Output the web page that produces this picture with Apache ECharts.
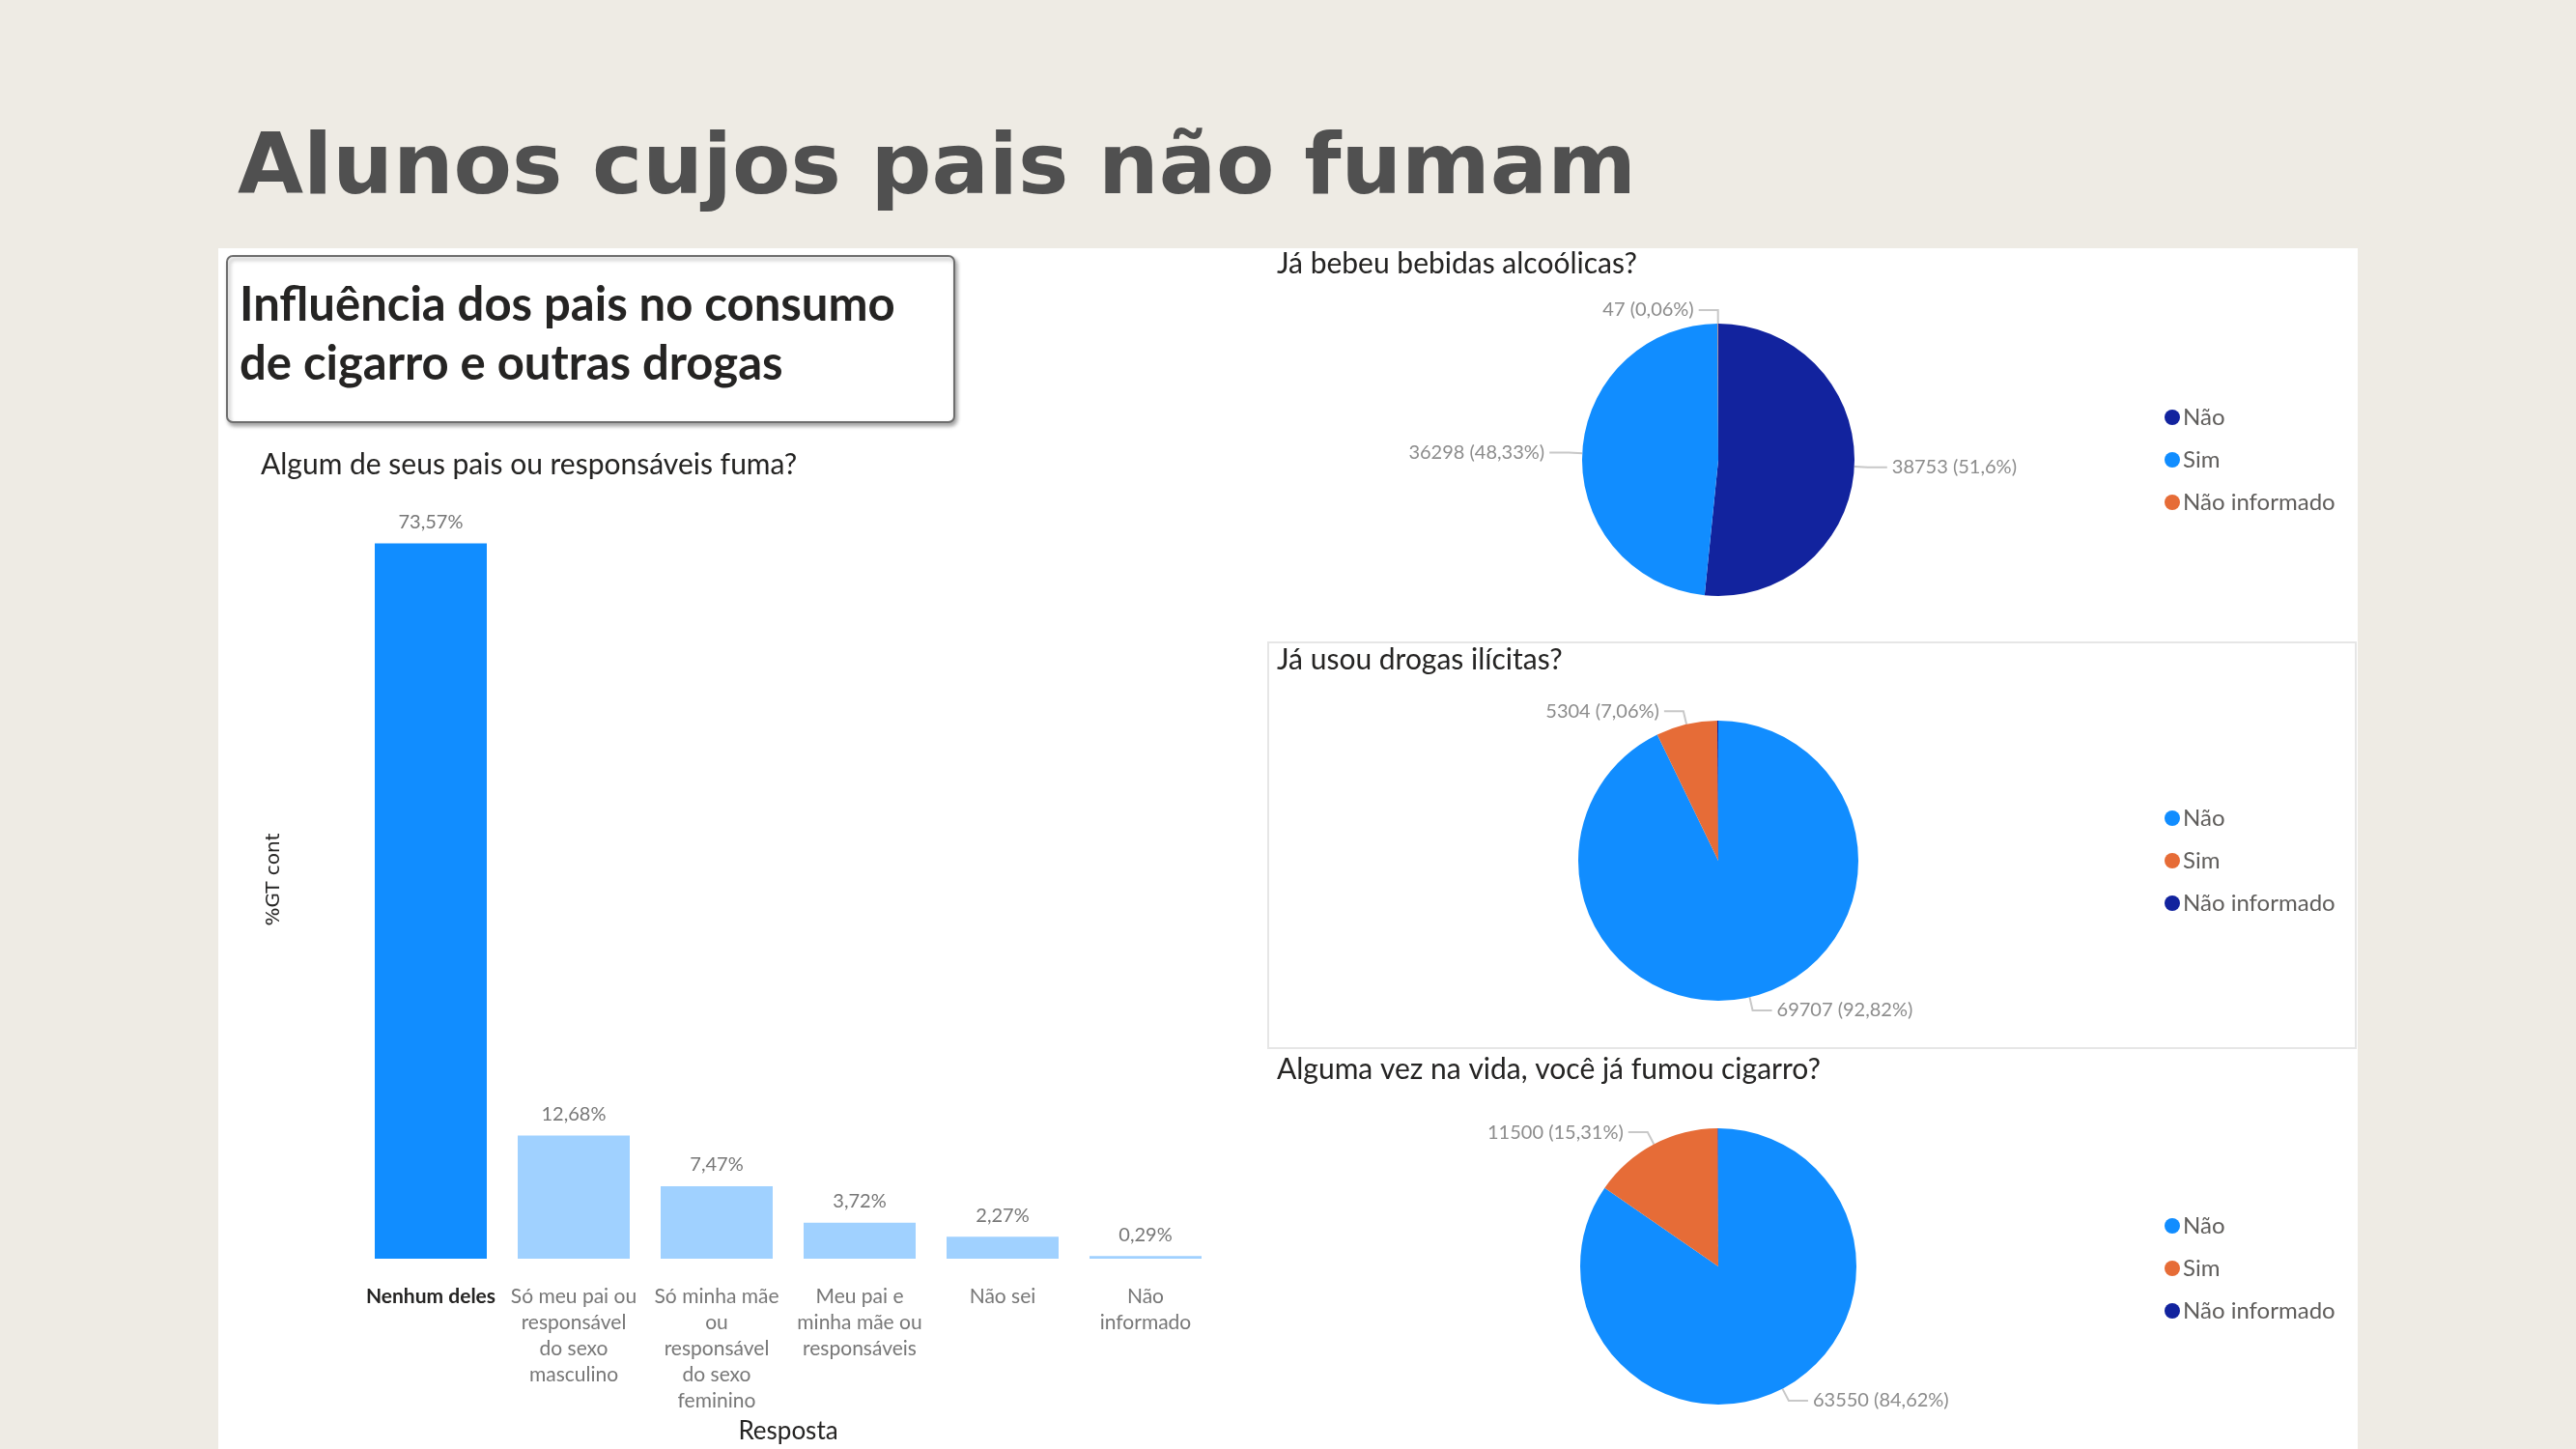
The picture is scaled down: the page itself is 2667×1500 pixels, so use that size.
<!DOCTYPE html>
<html>
<head>
<meta charset="utf-8">
<script src="https://cdn.jsdelivr.net/npm/echarts@6/dist/echarts.min.js"></script>
<style>
html,body{margin:0;padding:0;background:#EEEBE4;}
#chart{width:2667px;height:1500px;}
</style>
</head>
<body>
<div id="chart"></div>
<script>
// ---- Data ----
const barCategories = ['Nenhum deles', 'Só meu pai ou\nresponsável\ndo sexo\nmasculino', 'Só minha mãe\nou\nresponsável\ndo sexo\nfeminino', 'Meu pai e\nminha mãe ou\nresponsáveis', 'Não sei', 'Não\ninformado'];
const barValues = [73.57, 12.68, 7.47, 3.72, 2.27, 0.29];
const pieNames = ['Não', 'Sim', 'Não informado'];
const alcoholValues = [38753, 36298, 47];
const drugValues = [69707, 5304, 87];
const cigaretteValues = [63550, 11500, 48];
const mainTitle = 'Alunos cujos pais não fumam';
const boxTitle = ['Influência dos pais no consumo', 'de cigarro e outras drogas'];
const barTitle = 'Algum de seus pais ou responsáveis fuma?';
const pieTitles = ['Já bebeu bebidas alcoólicas?', 'Já usou drogas ilícitas?', 'Alguma vez na vida, você já fumou cigarro?'];

// ---- Styles ----
const NAVY = '#12239E', BLUE = '#118DFF', ORANGE = '#E66C37', LIGHT = '#A0D1FF';
const alcoholColors = [NAVY, BLUE, ORANGE];
const otherColors = [BLUE, ORANGE, NAVY];
const FONT = 'Lato';

function fmtPct(x) {
  return (Math.round(x * 100) / 100).toString().replace('.', ',');
}

function pieSeries(values, colors, center, radius, hiddenLabels) {
  const total = values.reduce((a, b) => a + b, 0);
  return {
    type: 'pie',
    center: center,
    radius: radius,
    startAngle: 90,
    clockwise: true,
    avoidLabelOverlap: false,
    label: {
      show: true,
      position: 'outside',
      fontFamily: FONT,
      fontSize: 20,
      color: '#8C8C8C',
      distanceToLabelLine: 5,
      formatter: p => p.value + ' (' + fmtPct(p.value / total * 100) + '%)'
    },
    labelLine: { show: true, length: 14, length2: 20, lineStyle: { color: '#C8C8C8', width: 2 } },
    emphasis: { disabled: true },
    data: values.map((v, i) => ({
      name: pieNames[i],
      value: v,
      itemStyle: { color: colors[i] },
      label: { show: hiddenLabels.indexOf(i) < 0 },
      labelLine: { show: hiddenLabels.indexOf(i) < 0 }
    }))
  };
}

function pieLegend(colors, top) {
  return {
    orient: 'vertical',
    left: 2236,
    top: top,
    icon: 'circle',
    itemWidth: 16,
    itemHeight: 16,
    itemGap: 20,
    selectedMode: false,
    textStyle: { fontFamily: FONT, fontSize: 24, color: '#605E5C', lineHeight: 24, padding: [0, 0, 0, -2] },
    data: pieNames.map((n, i) => ({ name: n, itemStyle: { color: colors[i] } }))
  };
}

const chart = echarts.init(document.getElementById('chart'), null, { renderer: 'canvas' });

const option = {
  backgroundColor: '#EEEBE4',
  animation: false,
  graphic: [
    { type: 'rect', z: -10, shape: { x: 226, y: 257, width: 2215, height: 1243 }, style: { fill: '#FFFFFF' } },
    { type: 'rect', z: -9, shape: { x: 1313, y: 665, width: 1126, height: 420 }, style: { fill: 'none', stroke: '#E6E6E6', lineWidth: 2 } },
    { type: 'rect', z: -8, shape: { x: 235, y: 265, width: 753, height: 172, r: 6 },
      style: { fill: '#FFFFFF', stroke: '#6E6E6E', lineWidth: 2, shadowBlur: 4, shadowOffsetX: 2, shadowOffsetY: 3, shadowColor: 'rgba(0,0,0,0.35)' } },
    { type: 'text', x: 246, y: 177, style: { text: mainTitle, fontFamily: 'DejaVu Sans', fontWeight: 'bold', fontSize: 88, fill: '#505050', verticalAlign: 'middle' } },
    { type: 'text', x: 248, y: 316, style: { text: boxTitle[0], fontFamily: FONT, fontWeight: 'bold', fontSize: 49, fill: '#252423', verticalAlign: 'middle' } },
    { type: 'text', x: 248, y: 377, style: { text: boxTitle[1], fontFamily: FONT, fontWeight: 'bold', fontSize: 49, fill: '#252423', verticalAlign: 'middle' } },
    { type: 'text', x: 270, y: 481, style: { text: barTitle, fontFamily: FONT, fontSize: 30, fill: '#252423', verticalAlign: 'middle' } },
    { type: 'text', x: 1322, y: 273, style: { text: pieTitles[0], fontFamily: FONT, fontSize: 30, fill: '#252423', verticalAlign: 'middle' } },
    { type: 'text', x: 1322, y: 683, style: { text: pieTitles[1], fontFamily: FONT, fontSize: 30, fill: '#252423', verticalAlign: 'middle' } },
    { type: 'text', x: 1322, y: 1107, style: { text: pieTitles[2], fontFamily: FONT, fontSize: 30, fill: '#252423', verticalAlign: 'middle' } }
  ],
  legend: [
    pieLegend(alcoholColors, 415),
    pieLegend(otherColors, 830),
    pieLegend(otherColors, 1252)
  ],
  grid: { left: 372, top: 518, width: 888, height: 792 },
  xAxis: {
    type: 'category',
    data: barCategories,
    name: 'Resposta',
    nameLocation: 'middle',
    nameGap: 159,
    nameTextStyle: { fontFamily: FONT, fontSize: 26, color: '#252423' },
    axisLine: { show: false },
    axisTick: { show: false },
    axisLabel: {
      interval: 0,
      margin: 26,
      fontFamily: FONT,
      fontSize: 21,
      lineHeight: 27,
      color: '#777777',
      formatter: (v, i) => i === 0 ? '{b|' + v + '}' : v,
      rich: { b: { fontFamily: FONT, fontWeight: 'bold', fontSize: 21, lineHeight: 27, color: '#252423' } }
    }
  },
  yAxis: {
    type: 'value',
    min: 0,
    max: 78,
    name: '%GT cont',
    nameLocation: 'middle',
    nameRotate: 90,
    nameGap: 78,
    nameTextStyle: { fontFamily: 'DejaVu Sans', fontSize: 20, color: '#252423' },
    axisLine: { show: false },
    axisTick: { show: false },
    axisLabel: { show: false },
    splitLine: { show: false }
  },
  series: [
    {
      type: 'bar',
      barWidth: 116,
      emphasis: { disabled: true },
      label: {
        show: true,
        position: 'top',
        distance: 12,
        fontFamily: FONT,
        fontSize: 20,
        color: '#777777',
        formatter: p => p.value.toFixed(2).replace('.', ',') + '%'
      },
      data: barValues.map((v, i) => ({ value: v, itemStyle: { color: i === 0 ? BLUE : LIGHT } }))
    },
    pieSeries(alcoholValues, alcoholColors, [1779, 476], 141, []),
    pieSeries(drugValues, otherColors, [1779, 891], 145, [2]),
    pieSeries(cigaretteValues, otherColors, [1779, 1311], 143, [2])
  ]
};

chart.setOption(option);
</script>
</body>
</html>
